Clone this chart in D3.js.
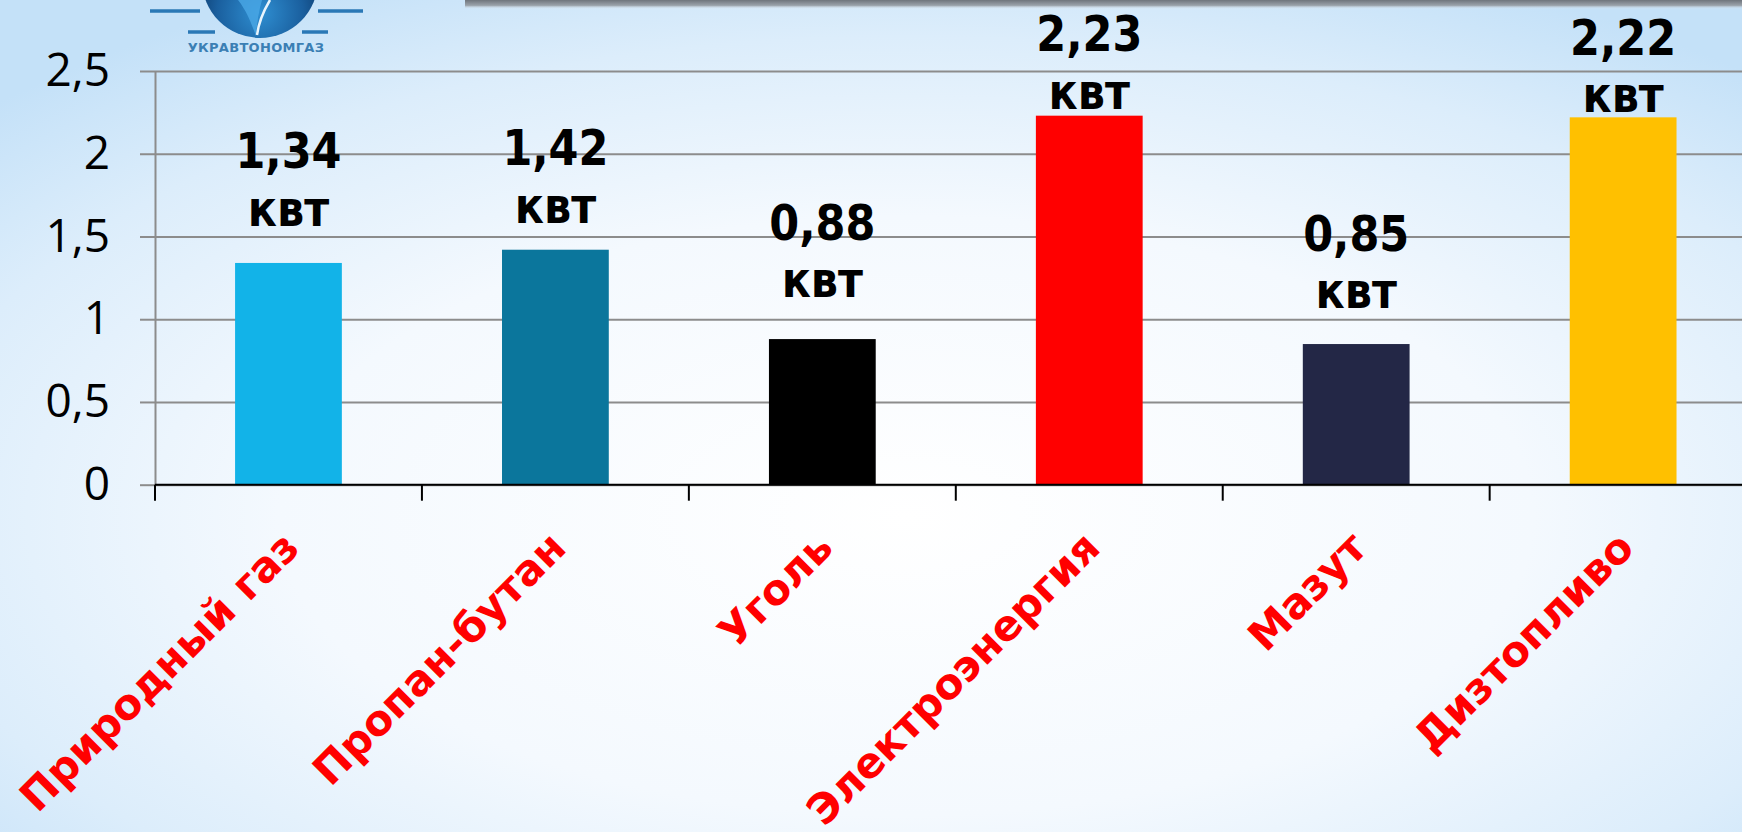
<!DOCTYPE html>
<html>
<head>
<meta charset="utf-8">
<script src="https://cdn.jsdelivr.net/npm/d3@7"></script>
<style>
  body { margin: 0; overflow: hidden; }
</style>
</head>
<body>
<script>

/******** Data *********/

var categories = ["Природный газ", "Пропан-бутан", "Уголь", "Электроэнергия", "Мазут", "Дизтопливо"]
var values = [1.34, 1.42, 0.88, 2.23, 0.85, 2.22]
var barColors = ["#12b3e8", "#0b769c", "#000000", "#ff0000", "#232746", "#ffc000"]
var yTicks = [0, 0.5, 1, 1.5, 2, 2.5]
var unitText = "квт"

var W = 1742, H = 832

/******** Scales *********/

var x = d3.scaleBand()
  .domain(categories)
  .range([155, 1756.6])
  .paddingInner(0.6)
  .paddingOuter(0.3)

var y = d3.scaleLinear()
  .domain([0, 2.5])
  .range([484.7, 71])

var ru = d3.formatLocale({decimal: ",", thousands: " ", grouping: [3], currency: ["", ""]})
var tickFmt = ru.format(".1~f")
var valFmt = ru.format(".2f")

// how far above the bar top each "квт" line sits (hand placed on the slide)
var labelLift = [37, 27, 42, 7, 36, 5]

/******** Svg + background *********/

var svg = d3.select("body")
  .append("svg")
    .attr("width", W)
    .attr("height", H)

var defs = svg.append("defs")

var bg = defs.append("radialGradient")
  .attr("id", "bg")
  .attr("cx", "0.52").attr("cy", "0.62").attr("r", "0.72")
bg.append("stop").attr("offset", "0").attr("stop-color", "#ffffff")
bg.append("stop").attr("offset", "0.5").attr("stop-color", "#f4f9fe")
bg.append("stop").attr("offset", "0.8").attr("stop-color", "#dcedfb")
bg.append("stop").attr("offset", "1").attr("stop-color", "#c4e1f8")

var ball = defs.append("radialGradient")
  .attr("id", "ball")
  .attr("cx", "0.5").attr("cy", "0.78").attr("r", "0.62")
ball.append("stop").attr("offset", "0").attr("stop-color", "#2f8fd2")
ball.append("stop").attr("offset", "0.6").attr("stop-color", "#1a5f9e")
ball.append("stop").attr("offset", "1").attr("stop-color", "#0a3463")

var bar = defs.append("linearGradient")
  .attr("id", "topbar")
  .attr("x1", 0).attr("x2", 0).attr("y1", 0).attr("y2", 1)
bar.append("stop").attr("offset", "0").attr("stop-color", "#6f757c")
bar.append("stop").attr("offset", "0.6").attr("stop-color", "#9aa2aa")
bar.append("stop").attr("offset", "1").attr("stop-color", "#dde8f2").attr("stop-opacity", 0)

svg.append("rect")
  .attr("width", W)
  .attr("height", H)
  .attr("fill", "url(#bg)")

// bottom edge of the title box
svg.append("rect")
  .attr("x", 465)
  .attr("y", 0)
  .attr("width", W - 465)
  .attr("height", 9)
  .attr("fill", "url(#topbar)")

/******** Logo *********/

var logo = svg.append("g").attr("class", "logo")

logo.append("circle")
  .attr("cx", 260)
  .attr("cy", -20)
  .attr("r", 58)
  .attr("fill", "url(#ball)")

logo.append("path")
  .attr("d", "M238,0 C246,10 251,22 256,36 C257,22 259,10 262,0 Z")
  .attr("fill", "#4aa8e6")
  .attr("opacity", 0.8)

logo.append("path")
  .attr("d", "M270,0 C264,10 259,20 257,35")
  .attr("fill", "none")
  .attr("stroke", "#e8f4fc")
  .attr("stroke-width", 2.5)

var logoLines = [[150, 200, 11], [318, 363, 11], [188, 215, 32], [302, 328, 32]]
logo.selectAll("line")
  .data(logoLines)
  .enter()
  .append("line")
    .attr("x1", function(d){ return d[0] })
    .attr("x2", function(d){ return d[1] })
    .attr("y1", function(d){ return d[2] })
    .attr("y2", function(d){ return d[2] })
    .attr("stroke", "#2a78b6")
    .attr("stroke-width", 3.5)

logo.append("text")
  .attr("x", 256)
  .attr("y", 51.5)
  .attr("text-anchor", "middle")
  .attr("font-family", "'DejaVu Sans', sans-serif")
  .attr("font-weight", "bold")
  .attr("font-size", "13px")
  .attr("letter-spacing", "0.3px")
  .attr("fill", "#3b7fb4")
  .text("УКРАВТОНОМГАЗ")

/******** Grid + y axis *********/

var grid = svg.append("g")
  .attr("class", "grid")
  .attr("transform", "translate(155,0)")
  .call(d3.axisLeft(y).tickValues(yTicks).tickSize(-(W - 155)).tickFormat(""))
grid.select(".domain").remove()
grid.selectAll("line")
  .attr("stroke", "#8c8c8c")
  .attr("stroke-width", 2)

var yAxis = svg.append("g")
  .attr("class", "y axis")
  .attr("transform", "translate(155,0)")
  .call(d3.axisLeft(y).tickValues(yTicks).tickSize(15).tickSizeOuter(0).tickPadding(30).tickFormat(tickFmt))
yAxis.select(".domain")
  .attr("stroke", "#8c8c8c")
  .attr("stroke-width", 2)
yAxis.selectAll("line")
  .attr("stroke", "#8c8c8c")
  .attr("stroke-width", 2)
yAxis.selectAll("text")
  .attr("font-family", "'Open Sans', sans-serif")
  .attr("font-size", "46px")
  .attr("fill", "#000")

/******** Bars *********/

svg.selectAll("rect.bar")
  .data(values)
  .enter()
  .append("rect")
    .attr("class", "bar")
    .attr("x", function(d, i){ return x(categories[i]) })
    .attr("y", function(d){ return y(d) })
    .attr("width", x.bandwidth())
    .attr("height", function(d){ return y(0) - y(d) })
    .attr("fill", function(d, i){ return barColors[i] })

/******** X axis *********/

svg.append("line")
  .attr("x1", 155)
  .attr("x2", W)
  .attr("y1", y(0))
  .attr("y2", y(0))
  .attr("stroke", "#000")
  .attr("stroke-width", 2)

var gap = x.step() * x.paddingInner() / 2
svg.selectAll("line.xtick")
  .data(categories)
  .enter()
  .append("line")
    .attr("class", "xtick")
    .attr("x1", function(d){ return x(d) - gap })
    .attr("x2", function(d){ return x(d) - gap })
    .attr("y1", y(0))
    .attr("y2", y(0) + 16)
    .attr("stroke", "#000")
    .attr("stroke-width", 2)

svg.selectAll("text.cat")
  .data(categories)
  .enter()
  .append("text")
    .attr("class", "cat")
    .attr("transform", function(d){
      return "translate(" + (x(d) + x.bandwidth() / 2 + 13) + ",550) rotate(-45)"
    })
    .attr("text-anchor", "end")
    .attr("font-family", "'DejaVu Sans', Verdana, sans-serif")
    .attr("font-weight", "bold")
    .attr("font-size", "42px")
    .attr("fill", "#ff0000")
    .text(function(d){ return d })

/******** Value labels *********/

var labels = svg.selectAll("g.vlabel")
  .data(values)
  .enter()
  .append("g")
    .attr("class", "vlabel")
    .attr("font-family", "'DejaVu Sans', Verdana, sans-serif")
    .attr("font-weight", "bold")
    .attr("font-size", "43px")
    .attr("fill", "#000")
    .attr("text-anchor", "middle")

labels.append("text")
  .attr("transform", function(d, i){
    var cx = x(categories[i]) + x.bandwidth() / 2
    return "translate(" + cx + "," + (y(d) - labelLift[i] - 57.5) + ") scale(1,1.16)"
  })
  .text(function(d){ return valFmt(d) })

labels.append("text")
  .attr("transform", function(d, i){
    var cx = x(categories[i]) + x.bandwidth() / 2
    return "translate(" + cx + "," + (y(d) - labelLift[i]) + ") scale(1,1.16)"
  })
  .text(unitText)

</script>
</body>
</html>
